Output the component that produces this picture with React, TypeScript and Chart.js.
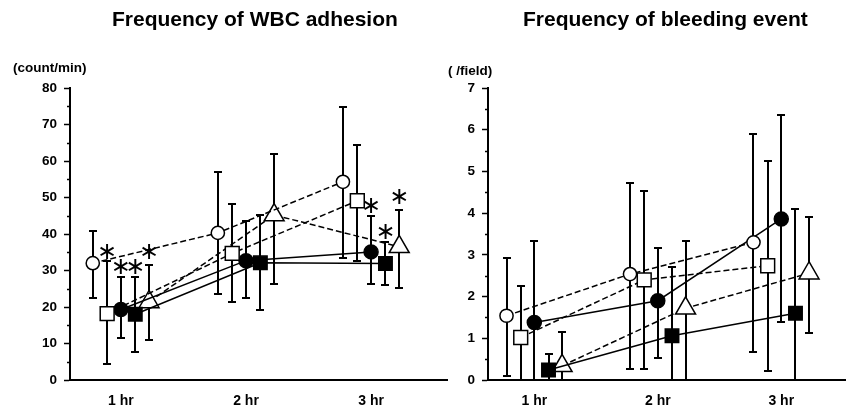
import React, { useEffect, useRef } from "react";
import { Chart, registerables } from "chart.js";
Chart.register(...registerables);

const FONT = '"Liberation Sans", Arial, Helvetica, sans-serif';

// ---- shared categories / series ----
const categories = ["1 hr", "2 hr", "3 hr"];
const seriesNames = ["Group A", "Group B", "Group C", "Group D", "Group E"];

// ---- Frequency of WBC adhesion (count/min) ----
const wbcTicks = [0, 10, 20, 30, 40, 50, 60, 70, 80];
const wbcA = [32, 40.3, 54.3];
const wbcALo = [22.6, 23.5, 33.3];
const wbcAHi = [40.9, 57, 74.8];
const wbcB = [18.2, 34.7, 49.1];
const wbcBLo = [4.4, 21.3, 32.7];
const wbcBHi = [32.5, 48.2, 64.5];
const wbcC = [19.3, 32.7, 35.1];
const wbcCLo = [11.4, 22.4, 26.3];
const wbcCHi = [28.3, 43.6, 45];
const wbcD = [18, 32.1, 31.9];
const wbcDLo = [7.7, 19.3, 25.9];
const wbcDHi = [28.3, 45.2, 37.9];
const wbcE = [21.4, 45.2, 36.5];
const wbcELo = [10.9, 26.3, 25.1];
const wbcEHi = [31.5, 61.9, 46.7];
// asterisk positions (value units), null = none
const wbcStarA = [null, null, null];
const wbcStarB = [34.8, null, null];
const wbcStarC = [30.7, null, 47.4];
const wbcStarD = [30.7, null, 40.3];
const wbcStarE = [34.8, null, 49.8];

// ---- Frequency of bleeding event (/field) ----
const bleedTicks = [0, 1, 2, 3, 4, 5, 6, 7];
const bleedA = [1.54, 2.54, 3.3];
const bleedALo = [0.1, 0.26, 0.66];
const bleedAHi = [2.92, 4.72, 5.9];
const bleedB = [1.02, 2.4, 2.74];
const bleedBLo = [0, 0.26, 0.22];
const bleedBHi = [2.26, 4.54, 5.24];
const bleedC = [1.38, 1.9, 3.86];
const bleedCLo = [0, 0.52, 1.38];
const bleedCHi = [3.33, 3.16, 6.35];
const bleedD = [0.24, 1.06, 1.6];
const bleedDLo = [0, 0, 0];
const bleedDHi = [0.62, 2.7, 4.1];
const bleedE = [0.34, 1.72, 2.56];
const bleedELo = [0, 0, 1.12];
const bleedEHi = [1.16, 3.33, 3.9];

// ---- styling (not data) ----
const OFFSETS = [-0.225, -0.11, 0, 0.115, 0.225];
const STYLES = [
  { pointStyle: "circle", filled: false, dashed: true, radius: 6.6 },
  { pointStyle: "rect", filled: false, dashed: true, radius: 9.8 },
  { pointStyle: "circle", filled: true, dashed: false, radius: 7 },
  { pointStyle: "rect", filled: true, dashed: false, radius: 9.5 },
  { pointStyle: "triangle", filled: false, dashed: true, radius: 11.5 },
];

type PanelProps = {
  width: number;
  left: number;
  yMax: number;
  yTicks: number[];
  minorStep: number;
  xMin: number;
  xMax: number;
  yAxisWidth: number;
  padRight: number;
  values: number[][];
  lo: number[][];
  hi: number[][];
  stars: (number | null)[][];
};

function Panel(props: PanelProps) {
  const ref = useRef<HTMLCanvasElement | null>(null);
  useEffect(() => {
    if (!ref.current) return;
    const { values, lo, hi, stars, minorStep, yMax } = props;
    const xOf = (s: number, j: number) => j + 1 + OFFSETS[s];

    const overlay = {
      id: "errbars",
      beforeDatasetsDraw(chart: any) {
        const { ctx } = chart;
        const x = chart.scales.x;
        const y = chart.scales.y;
        ctx.save();
        ctx.strokeStyle = "#000";
        ctx.lineWidth = 2;
        ctx.setLineDash([]);
        lo.forEach((arr, s) =>
          arr.forEach((l, j) => {
            const px = Math.round(x.getPixelForValue(xOf(s, j)));
            const pl = Math.round(y.getPixelForValue(l));
            const ph = Math.round(y.getPixelForValue(hi[s][j]));
            ctx.beginPath();
            ctx.moveTo(px, pl);
            ctx.lineTo(px, ph);
            ctx.moveTo(px - 4, ph);
            ctx.lineTo(px + 4, ph);
            ctx.moveTo(px - 4, pl);
            ctx.lineTo(px + 4, pl);
            ctx.stroke();
          })
        );
        ctx.restore();
      },
      afterDraw(chart: any) {
        const { ctx } = chart;
        const x = chart.scales.x;
        const y = chart.scales.y;
        ctx.save();
        // minor ticks
        ctx.strokeStyle = "#000";
        ctx.lineWidth = 1.5;
        const ax = y.right;
        for (let v = minorStep; v < yMax; v += minorStep * 2) {
          const py = Math.round(y.getPixelForValue(v)) + 0.5;
          ctx.beginPath();
          ctx.moveTo(ax - 3, py);
          ctx.lineTo(ax, py);
          ctx.stroke();
        }
        // asterisks
        ctx.fillStyle = "#000";
        ctx.font = '24px "DejaVu Sans"';
        ctx.textAlign = "center";
        ctx.textBaseline = "middle";
        stars.forEach((arr, s) =>
          arr.forEach((v, j) => {
            if (v === null) return;
            ctx.fillText("\u2217", x.getPixelForValue(xOf(s, j)), y.getPixelForValue(v));
          })
        );
        ctx.restore();
      },
    };

    const chart = new Chart(ref.current, {
      type: "scatter",
      data: {
        datasets: STYLES.map((st, s) => ({
          label: seriesNames[s],
          data: values[s].map((v, j) => ({ x: xOf(s, j), y: v })),
          showLine: true,
          borderColor: "#000",
          borderWidth: 1.5,
          borderDash: st.dashed ? [6, 3] : [],
          pointStyle: st.pointStyle as any,
          pointRadius: st.radius,
          pointHoverRadius: st.radius,
          pointBackgroundColor: st.filled ? "#000" : "#fff",
          pointBorderColor: "#000",
          pointBorderWidth: 1.5,
          fill: false,
          tension: 0,
        })),
      },
      options: {
        responsive: false,
        animation: false,
        events: [],
        layout: { padding: { top: 88, left: 0, right: props.padRight, bottom: 0 } },
        plugins: { legend: { display: false }, tooltip: { enabled: false }, title: { display: false } },
        scales: {
          x: {
            type: "linear",
            min: props.xMin,
            max: props.xMax,
            afterBuildTicks: (s: any) => {
              s.ticks = categories.map((_, i) => ({ value: i + 1 }));
            },
            afterFit: (s: any) => {
              s.height = 32;
            },
            ticks: {
              callback: (v: any) => categories[Math.round(v) - 1] ?? "",
              font: { family: FONT, size: 14, weight: "bold" },
              color: "#000",
              padding: 13,
              maxRotation: 0,
            },
            grid: { display: false, drawTicks: false },
            border: { display: true, color: "#000", width: 2 },
          },
          y: {
            type: "linear",
            min: 0,
            max: props.yMax,
            afterBuildTicks: (s: any) => {
              s.ticks = props.yTicks.map((v) => ({ value: v }));
            },
            afterFit: (s: any) => {
              s.width = props.yAxisWidth;
            },
            ticks: {
              font: { family: FONT, size: 13.5, weight: "bold" },
              color: "#000",
              padding: 7,
            },
            grid: { drawOnChartArea: false, drawTicks: true, tickLength: 6, tickColor: "#000", tickWidth: 1.5 },
            border: { display: true, color: "#000", width: 2 },
          },
        },
      },
      plugins: [overlay],
    } as any);
    return () => chart.destroy();
  }, []);
  return (
    <canvas
      ref={ref}
      width={props.width}
      height={412}
      style={{ position: "absolute", left: props.left, top: 0, width: props.width, height: 412 }}
    />
  );
}

const textStyle = (left: number, top: number, size: number): React.CSSProperties => ({
  position: "absolute",
  left,
  top,
  fontFamily: FONT,
  fontWeight: "bold",
  fontSize: size,
  lineHeight: `${size}px`,
  whiteSpace: "nowrap",
  color: "#000",
});

export default function App() {
  return (
    <div style={{ position: "fixed", left: 0, top: 0, width: 858, height: 412, background: "#fff", overflow: "hidden" }}>
      <Panel
        width={460}
        left={0}
        yMax={80}
        yTicks={wbcTicks}
        minorStep={5}
        xMin={0.593}
        xMax={3.607}
        yAxisWidth={70}
        padRight={5}
        values={[wbcA, wbcB, wbcC, wbcD, wbcE]}
        lo={[wbcALo, wbcBLo, wbcCLo, wbcDLo, wbcELo]}
        hi={[wbcAHi, wbcBHi, wbcCHi, wbcDHi, wbcEHi]}
        stars={[wbcStarA, wbcStarB, wbcStarC, wbcStarD, wbcStarE]}
      />
      <Panel
        width={398}
        left={460}
        yMax={7}
        yTicks={bleedTicks}
        minorStep={0.5}
        xMin={0.625}
        xMax={3.516}
        yAxisWidth={28}
        padRight={0}
        values={[bleedA, bleedB, bleedC, bleedD, bleedE]}
        lo={[bleedALo, bleedBLo, bleedCLo, bleedDLo, bleedELo]}
        hi={[bleedAHi, bleedBHi, bleedCHi, bleedDHi, bleedEHi]}
        stars={[[null, null, null], [null, null, null], [null, null, null], [null, null, null], [null, null, null]]}
      />
      <div style={textStyle(112, 8, 21)}>Frequency of WBC adhesion</div>
      <div style={textStyle(523, 8, 21)}>Frequency of bleeding event</div>
      <div style={textStyle(13, 61, 13.5)}>(count/min)</div>
      <div style={textStyle(448, 64, 13.5)}>( /field)</div>
    </div>
  );
}
